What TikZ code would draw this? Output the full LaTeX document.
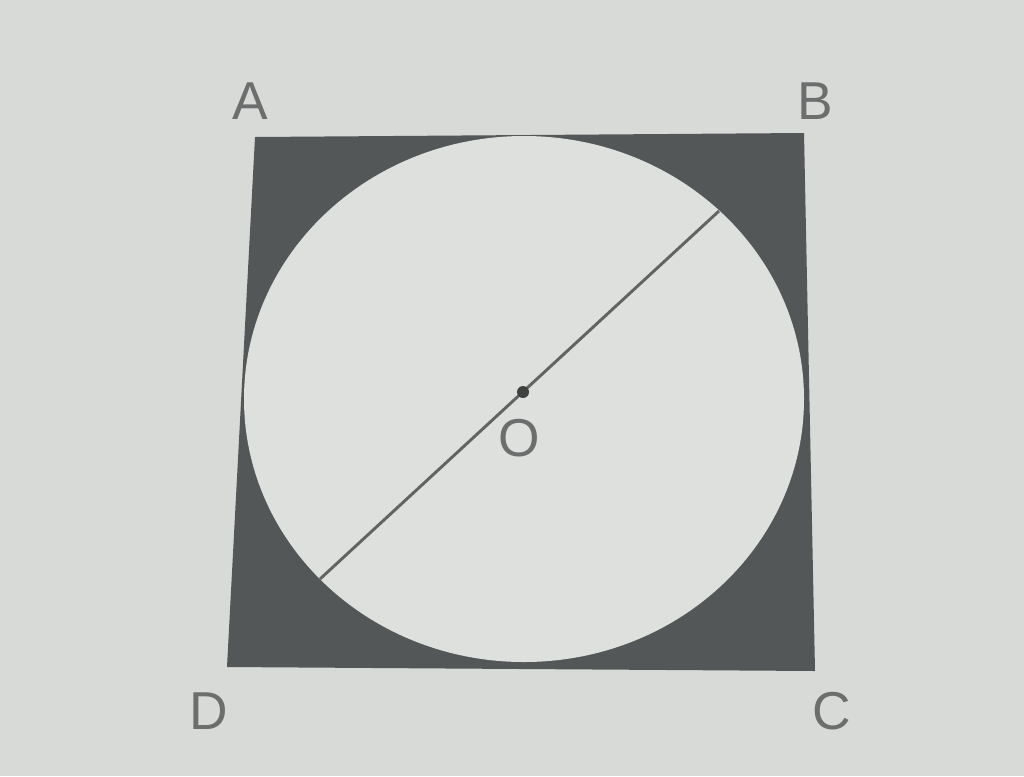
\documentclass[tikz,border=0pt]{standalone}
\usepackage{fontspec}
\setmainfont{Liberation Sans}
\definecolor{bgc}{RGB}{216,218,216}
\definecolor{darkfill}{RGB}{84,87,87}
\definecolor{inner}{RGB}{222,224,222}
\definecolor{ink}{RGB}{108,110,110}
\definecolor{linec}{RGB}{98,100,100}
\tikzset{
  lbl/.style={text=ink, font=\fontsize{40}{40}\selectfont, inner sep=0pt},
  diam/.style={draw=linec, line width=2.2pt},
}
\begin{document}
\begin{tikzpicture}[x=0.75pt,y=-0.75pt]
\fill[bgc] (0,0) rectangle (1024,776);
\useasboundingbox (0,0) rectangle (1024,776);
% square corners
\coordinate (cA) at (255,137);
\coordinate (cB) at (804,133);
\coordinate (cC) at (815,671);
\coordinate (cD) at (227,667);
\fill[darkfill] (cA) -- (cB) -- (cC) -- (cD) -- cycle;
% circle
\coordinate (O) at (524,399);
\fill[inner] (O) ellipse [x radius=280, y radius=263];
% diameter
\coordinate (P) at (719,211);
\coordinate (Q) at (320,579);
\draw[diam] (P) -- (Q);
\fill[black!75] (523,392) circle [radius=6];
% labels
\node[lbl] (A) at (250,101) {A};
\node[lbl] (B) at (815,101) {B};
\node[lbl] (C) at (832,711) {C};
\node[lbl] (D) at (209,711) {D};
\node[lbl] (Olab) at (519,438) {O};
\end{tikzpicture}
\end{document}
